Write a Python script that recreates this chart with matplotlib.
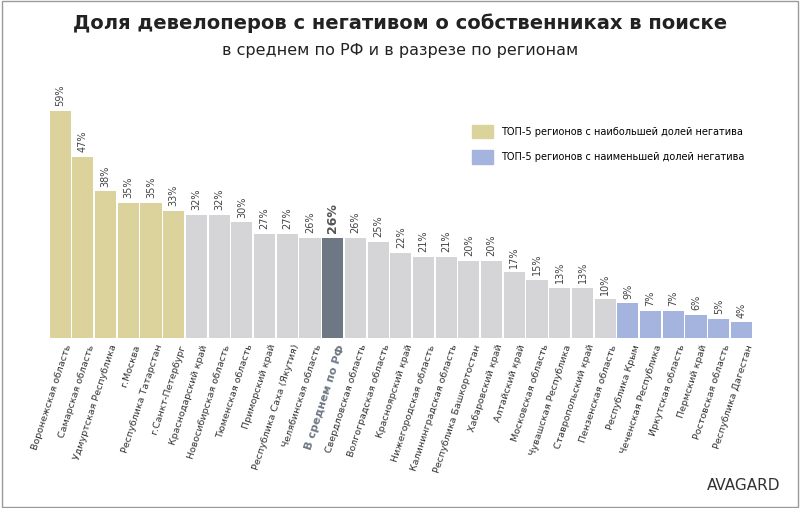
import matplotlib.pyplot as plt
from matplotlib.patches import Patch, Rectangle

regions = ["Воронежская область", "Самарская область", "Удмуртская Республика", "г.Москва",
           "Республика Татарстан", "г.Санкт-Петербург", "Краснодарский край", "Новосибирская область",
           "Тюменская область", "Приморский край", "Республика Саха (Якутия)", "Челябинская область",
           "В среднем по РФ", "Свердловская область", "Волгоградская область", "Красноярский край",
           "Нижегородская область", "Калининградская область", "Республика Башкортостан",
           "Хабаровский край", "Алтайский край", "Московская область", "Чувашская Республика",
           "Ставропольский край", "Пензенская область", "Республика Крым", "Чеченская Республика",
           "Иркутская область", "Пермский край", "Ростовская область", "Республика Дагестан"]
values = [59, 47, 38, 35, 35, 33, 32, 32, 30, 27, 27, 26, 26, 26, 25, 22, 21, 21, 20, 20,
          17, 15, 13, 13, 10, 9, 7, 7, 6, 5, 4]
groups = ["top"] * 6 + ["mid"] * 6 + ["avg"] + ["mid"] * 12 + ["low"] * 6

palette = {"top": "#dcd39c", "mid": "#d5d5d7", "avg": "#6d7884", "low": "#a4b4df"}

fig = plt.figure(figsize=(8, 5.08), dpi=100)
fig.patches.append(Rectangle((0.002, 0.002), 0.996, 0.996, transform=fig.transFigure,
                             fill=False, edgecolor="#9a9a9a", lw=1))
ax = fig.add_axes([0.061, 0.335, 0.880, 0.47])

x = range(len(values))
ax.bar(x, values, width=0.93, color=[palette[g] for g in groups])
for i, v in enumerate(values):
    avg = groups[i] == "avg"
    ax.text(i, v + 1.2, f"{v}%", rotation=90, ha="center", va="bottom",
            fontsize=9 if avg else 7, color="#555555" if avg else "#444444",
            fontweight="bold" if avg else "normal")

ax.set_xlim(-0.5, len(values) - 0.5)
ax.set_ylim(0, 62)
ax.set_xticks([i + 0.2 for i in x])
ax.set_xticklabels(regions, rotation=72, ha="right", rotation_mode="anchor", fontsize=6.8, color="#333333")
for lbl, g in zip(ax.get_xticklabels(), groups):
    if g == "avg":
        lbl.set_fontweight("bold")
        lbl.set_fontsize(8)
        lbl.set_color("#6d7884")
ax.tick_params(axis="x", length=0, pad=4)
ax.set_yticks([])
for s in ax.spines.values():
    s.set_visible(False)

fig.text(0.5, 0.955, "Доля девелоперов с негативом о собственниках в поиске",
         ha="center", va="center", fontsize=14, fontweight="bold", color="#222222")
fig.text(0.5, 0.9, "в среднем по РФ и в разрезе по регионам",
         ha="center", va="center", fontsize=11.5, color="#222222")

ax.legend(handles=[Patch(color=palette["top"], label="ТОП-5 регионов с наибольшей долей негатива"),
                   Patch(color=palette["low"], label="ТОП-5 регионов с наименьшей долей негатива")],
          loc="upper right", bbox_to_anchor=(1.0, 0.93), frameon=False, fontsize=7,
          handlelength=2.2, handleheight=1.8, labelspacing=1.2)

fig.text(0.975, 0.03, "AVAGARD", ha="right", va="bottom", fontsize=11, color="#333333")

fig.savefig("out.png", dpi=100)
